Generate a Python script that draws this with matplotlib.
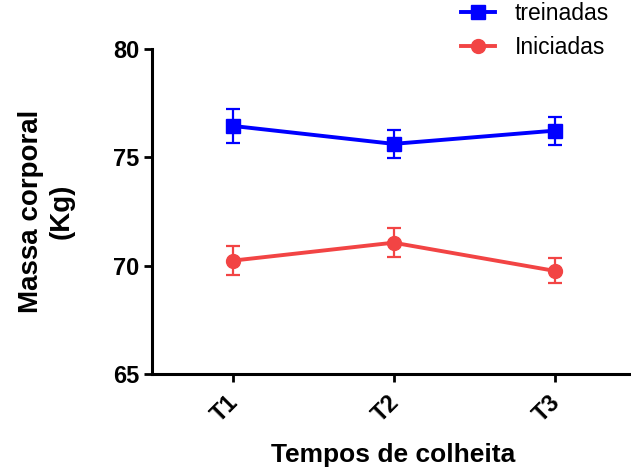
import matplotlib.pyplot as plt
from matplotlib.lines import Line2D
from matplotlib.transforms import ScaledTranslation

plt.rcParams['font.family'] = ['Liberation Sans', 'DejaVu Sans']

# tempos de colheita
tempos = ['T1', 'T2', 'T3']

# massa corporal (média e erro padrão)
treinadas_media = [76.45, 75.62, 76.23]
treinadas_erro = [0.78, 0.66, 0.65]
iniciadas_media = [70.23, 71.06, 69.76]
iniciadas_erro = [0.66, 0.68, 0.57]

cor_tr = '#0000FF'
cor_in = '#F24444'

x = list(range(1, len(tempos) + 1))

fig = plt.figure(figsize=(6.31, 4.70), dpi=100)
ax = fig.add_axes([0.2409, 0.2043, 0.7655, 0.6915])

ax.errorbar(x, treinadas_media, yerr=treinadas_erro, color=cor_tr,
            marker='s', markersize=10, lw=2.8, elinewidth=1.6,
            capsize=5, capthick=1.6, clip_on=False)
ax.errorbar(x, iniciadas_media, yerr=iniciadas_erro, color=cor_in,
            marker='o', markersize=10, lw=2.8, elinewidth=1.6,
            capsize=5, capthick=1.6, clip_on=False)

ax.set_xlim(0.5, 3.5)
ax.set_ylim(65, 80)
ax.set_yticks([65, 70, 75, 80])
ax.set_xticks(x)
ax.set_xticklabels(tempos, rotation=45, ha='right', rotation_mode='anchor')

for s in ['top', 'right']:
    ax.spines[s].set_visible(False)
for s in ['left', 'bottom']:
    ax.spines[s].set_linewidth(2.2)

ax.tick_params(axis='both', direction='out', length=6, width=2,
               labelsize=17, pad=3)
ax.tick_params(axis='x', pad=6)
desloc = ScaledTranslation(-4 / 72, 0, fig.dpi_scale_trans)
for lbl in ax.get_xticklabels():
    lbl.set_transform(lbl.get_transform() + desloc)
for lbl in ax.get_xticklabels() + ax.get_yticklabels():
    lbl.set_fontweight('bold')

ax.set_xlabel('Tempos de colheita', fontsize=19, fontweight='bold', labelpad=12)
ax.set_ylabel('Massa corporal\n(Kg)', fontsize=20, fontweight='bold', labelpad=28)

# legenda
handles = [Line2D([0], [0], color=cor_tr, marker='s', markersize=10, lw=2.8),
           Line2D([0], [0], color=cor_in, marker='o', markersize=10, lw=2.8)]
fig.legend(handles, ['treinadas', 'Iniciadas'], loc='upper left',
           bbox_to_anchor=(0.7306, 0.995), frameon=False, fontsize=16.5,
           borderpad=0, borderaxespad=0, handlelength=1.5,
           handletextpad=0.83, labelspacing=0.45)

fig.savefig('out.png', dpi=100)
